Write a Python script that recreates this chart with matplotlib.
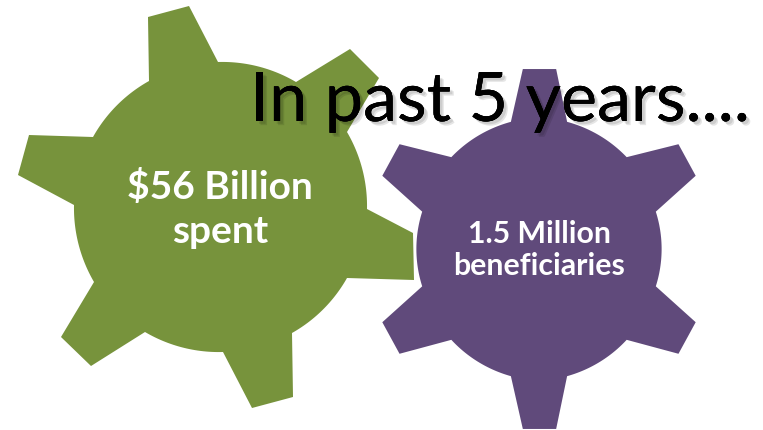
import numpy as np
import matplotlib
matplotlib.use("Agg")
import matplotlib.pyplot as plt
import matplotlib.patheffects as pe
from matplotlib.patches import Polygon

# gear outlines in picture pixels, each inner list is one tooth
green_center = (220.5, 208)
green_teeth = [
    [(149, 82), (148, 18), (189, 7), (218, 63)],
    [(296, 83), (350, 50), (379, 79), (347, 133)],
    [(367, 210), (413, 234), (414, 281), (347, 279)],
    [(292, 334), (293, 398), (252, 409), (223, 353)],
    [(145, 333), (91, 367), (61, 338), (94, 283)],
    [(74, 206), (18, 176), (29, 136), (93, 138)],
]
purple_center = (539, 250)
purple_teeth = [
    [(510, 122), (522, 69), (557, 69), (568, 122)],
    [(627, 157), (679, 144), (697, 177), (657, 213)],
    [(657, 287), (697, 323), (679, 356), (627, 342)],
    [(568, 378), (557, 431), (522, 431), (510, 378)],
    [(451, 342), (399, 356), (381, 323), (421, 287)],
    [(421, 213), (381, 177), (399, 144), (451, 157)],
]

green_label = "$56 Billion\nspent"
purple_label = "1.5 Million\nbeneficiaries"
title = "In past 5 years...."


def gear_outline(center, teeth):
    # teeth joined by arcs round the center
    pts = []
    cx, cy = center
    for i, tooth in enumerate(teeth):
        pts.extend(tooth)
        x0, y0 = tooth[-1]
        x1, y1 = teeth[(i + 1) % len(teeth)][0]
        a0 = np.arctan2(y0 - cy, x0 - cx)
        a1 = np.arctan2(y1 - cy, x1 - cx)
        if a1 < a0:
            a1 += 2 * np.pi
        r0 = np.hypot(x0 - cx, y0 - cy)
        r1 = np.hypot(x1 - cx, y1 - cy)
        for t in np.linspace(0, 1, 30)[1:-1]:
            a = a0 + (a1 - a0) * t
            r = r0 + (r1 - r0) * t
            pts.append((cx + r * np.cos(a), cy + r * np.sin(a)))
    return pts


fig = plt.figure(figsize=(7.63, 4.31), dpi=100)
ax = fig.add_axes([0, 0, 1, 1])
ax.set_xlim(0, 763)
ax.set_ylim(431, 0)
ax.axis("off")

ax.add_patch(Polygon(gear_outline(green_center, green_teeth), closed=True,
                     facecolor="#77933C", edgecolor="none", zorder=1))
ax.add_patch(Polygon(gear_outline(purple_center, purple_teeth), closed=True,
                     facecolor="#604A7B", edgecolor="white", linewidth=1.5, zorder=2))

ax.text(220, 209, green_label, color="white", fontsize=28, fontweight="bold",
        family="Lato", ha="center", va="center", linespacing=1.32, zorder=3)
ax.text(539, 250, purple_label, color="white", fontsize=21.8, fontweight="bold",
        family="Lato", ha="center", va="center", linespacing=1.2, zorder=3)

# soft shadow under the heading
shadow = [pe.withSimplePatchShadow(offset=(o, -o), shadow_rgbFace="black", alpha=0.1)
          for o in (3.0, 2.0)]
ax.text(250, 122, title, color="black", fontsize=49.2, family="Lato",
        ha="left", va="baseline", zorder=4, path_effects=shadow + [pe.Normal()])

fig.savefig("out.png", dpi=100)
